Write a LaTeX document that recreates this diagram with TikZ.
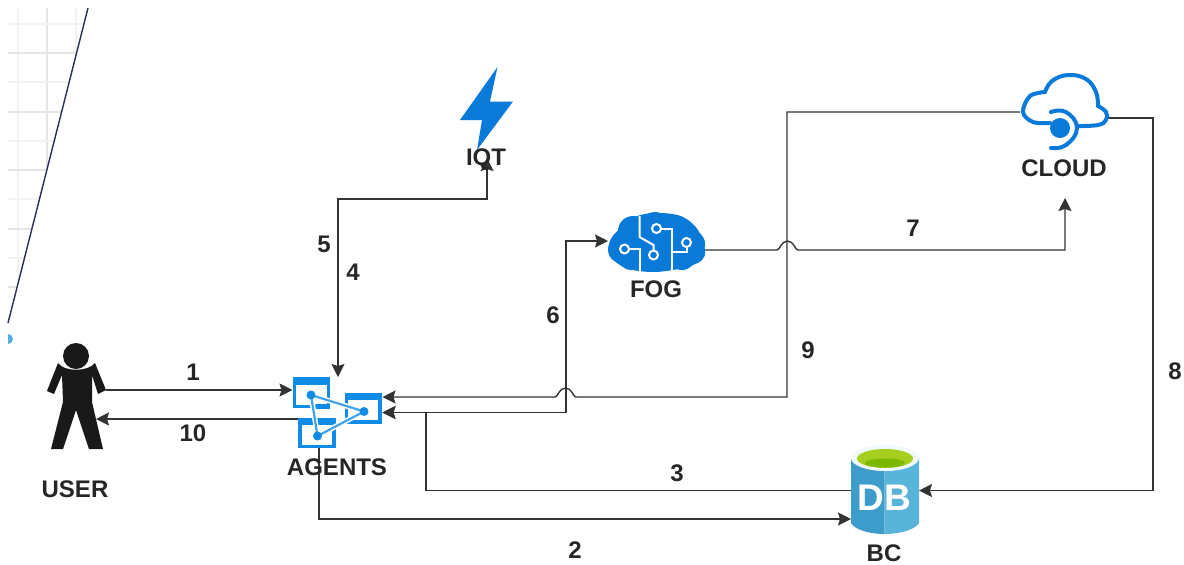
\documentclass[tikz,border=0pt]{standalone}
\usepackage{fontspec}
\setmainfont{Liberation Sans}
\usetikzlibrary{arrows.meta}
\definecolor{iconblue}{HTML}{0A7AD8}
\definecolor{agentblue}{HTML}{108CE6}
\definecolor{linegray}{HTML}{333333}
\definecolor{dbleft}{HTML}{3E9CCB}
\definecolor{dbright}{HTML}{59B4D9}
\definecolor{dbgreen}{HTML}{A5CE1E}
\definecolor{dbdark}{HTML}{7DB800}
\definecolor{slant}{HTML}{2A2E5A}
\tikzset{
  link/.style={draw=linegray,line width=0.7pt,>={Stealth[length=6.5pt,width=6.5pt,inset=1pt]}},
  lbl/.style={font=\bfseries\fontsize{12}{14}\selectfont,text=black!85,inner sep=0pt},
  icon/.style={inner sep=0pt,outer sep=0pt},
  agentbox/.style={draw=agentblue,line width=1.7pt,fill=white},
  cloudline/.style={iconblue,line width=2pt,line cap=round},
}
\begin{document}
\begin{tikzpicture}[x=0.5pt,y=-0.5pt]
  \useasboundingbox (0,0) rectangle (1184,564);
  % grid at the corner
  \begin{scope}
    \clip (8,8) -- (88,8) -- (8,323) -- cycle;
    \foreach \gx/\gc in {18/black!5,47/black!10,76/black!5}
      \draw[\gc,line width=0.6pt] (\gx,8) -- (\gx,330);
    \foreach \gy/\gc in {24/black!5,53/black!10,82/black!5,112/black!10,141/black!5,170/black!10,199/black!5,229/black!10,258/black!5,287/black!10}
      \draw[\gc,line width=0.6pt] (8,\gy) -- (90,\gy);
  \end{scope}
  \draw[slant,line width=0.7pt] (88,8) -- (8,323);
  \begin{scope}
    \clip (8,330) rectangle (14,348);
    \fill[agentblue!70] (8,339) circle (5);
  \end{scope}

  % icon nodes
  \node[icon,minimum width=30pt,minimum height=53pt] (user) at (76,396) {};
  \node[icon,minimum width=45pt,minimum height=35.5pt] (agents) at (337.5,412.5) {};
  \node[icon,minimum width=26.5pt,minimum height=45.5pt] (iot) at (487,112.5) {};
  \node[icon,minimum width=48.5pt,minimum height=30pt] (fog) at (656.5,241) {};
  \node[icon,minimum width=44pt,minimum height=37pt] (cloud) at (1064,112) {};
  \node[icon,minimum width=34pt,minimum height=43pt] (bc) at (885,490.5) {};
  \coordinate (cloudin) at (1065,198);

  % connectors
  \draw[link,->] (user.east |- 0,390) -- (agents.west |- 0,390);
  \draw[link,->] ([xshift=3pt]agents.west |- 0,419) -- ([xshift=-5pt]user.east |- 0,419);
  \draw[link,<->] (iot.south) -- (487,199) -- (338,199) -- (agents.north -| 338,0);
  \draw[link,<->] (fog.west) -- (566,241) -- (566,412.5) -- (agents.east);
  \draw[link,->] (fog.east |- 0,250) -- (777,250) .. controls (780,250) and (781,241) .. (787.5,241) .. controls (794,241) and (795,250) .. (798,250) -- (1065,250) -- (cloudin);
  \draw[link,->] (cloud.west) -- (787,112) -- (787,397) -- (576,397) .. controls (573,397) and (572,388) .. (565.5,388) .. controls (559,388) and (558,397) .. (555,397) -- (agents.east |- 0,397);
  \draw[link,->] (bc.west) -- (426,490.5) -- (426,412.5) -- (agents.east);
  \draw[link,->] (319,448) -- (319,519) -- (bc.west |- 0,519);
  \draw[link,->] (cloud.east |- 0,118) -- (1153,118) -- (1153,490.5) -- (bc.east);

  % user
  \fill[black!90] (58,363) .. controls (64,372) and (88,372) .. (95,363) -- (106,390) -- (98,394) -- (92,375) -- (92,402) -- (103,449) -- (89,449) -- (76,410) -- (63,449) -- (51,449) -- (63,402) -- (62,375) -- (54,394) -- (47,391) -- cycle;
  \fill[black!90] (76,356) circle (13);

  % agents
  \draw[agentbox] (294.5,379) rectangle (328.5,406.5);
  \fill[agentblue] (293,377.5) rectangle (330,385);
  \fill[agentblue] (313,404) rectangle (330,408.5);
  \draw[agentbox] (346.5,395) rectangle (380,422);
  \fill[agentblue] (345,393.5) rectangle (381.5,400);
  \draw[agentbox] (300,420) rectangle (334,446.5);
  \fill[agentblue] (298,418) rectangle (336,424.5);
  \draw[white,line width=2.6pt] (311,395) -- (364,411.5) -- (317.5,436) -- cycle;
  \draw[agentblue!80!white,line width=1.1pt] (311,395) -- (364,411.5) -- (317.5,436) -- cycle;
  \foreach \ax/\ay in {311/395,364/411.5,317.5/436}
    \fill[agentblue] (\ax,\ay) circle (4.5);

  % iot
  \fill[iconblue] (497.5,67) -- (460,120) -- (482,120) -- (477,150) -- (513,101.5) -- (490,101.5) -- cycle;

  % fog
  \fill[iconblue] plot[smooth cycle,tension=0.6] coordinates {(608,250) (612,237) (622,227) (633,218) (645,214) (657,213) (672,214) (685,218) (698,230) (705,250) (702,260) (690,266) (673,270) (653,272) (633,270) (620,265) (612,258)};
  \foreach \bx/\by/\br in {621/250/13,633/231/15,655/227/15,678/230/13,691/244/14,682/256/14,655/256/16,631/257/13}
    \fill[iconblue] (\bx,\by) circle (\br);
  \draw[white,line width=1pt] (639.5,216) -- (639.5,237) -- (653.5,245) -- (653.5,251);
  \draw[white,line width=1pt] (660.5,228.5) -- (671.5,228.5) -- (671.5,272);
  \draw[white,line width=1pt] (628,249) -- (639.5,249) -- (639.5,272);
  \draw[white,line width=1pt] (686.5,246) -- (686.5,251.5) -- (671.5,251.5);
  \foreach \fx/\fy in {653.5/255,656.5/228.5,624.5/249,686.5/242.5}
    \draw[white,fill=iconblue,line width=1pt] (\fx,\fy) circle (4.5);

  % cloud
  \draw[cloudline] plot[smooth,tension=0.6] coordinates {(1050,123) (1033,122) (1023,112) (1030,96) (1045,92)};
  \draw[cloudline] plot[smooth,tension=0.7] coordinates {(1045,92) (1052,81) (1068,75) (1086,79) (1096,92) (1098,106)};
  \draw[cloudline] plot[smooth,tension=0.7] coordinates {(1098,106) (1106,112) (1106,120) (1098,125) (1078,126)};
  \draw[cloudline] plot[smooth,tension=0.8] coordinates {(1051,112) (1066,112) (1077,128) (1066,145) (1051,148)};
  \fill[iconblue] (1060,128) circle (10);

  % bc
  \fill[dbleft] (851,458) -- (851,523) .. controls (855,530) and (870,534) .. (884.5,534) -- (884.5,458) -- cycle;
  \fill[dbright] (884.5,458) -- (884.5,534) .. controls (899,534) and (915,530) .. (919,523) -- (919,458) -- cycle;
  \fill[white!92!dbright] (885,458) ellipse (34 and 13);
  \fill[dbgreen] (885,458.5) ellipse (28 and 9.5);
  \fill[dbdark] (885,463) ellipse (20 and 4.5);
  \node[font=\bfseries\fontsize{18.5}{20}\selectfont,text=white,inner sep=0pt] (dbtext) at (884,498) {DB};

  % labels
  \node[lbl] (userlabel) at (75,489) {USER};
  \node[lbl] (agentslabel) at (337,467) {AGENTS};
  \node[lbl] (iotlabel) at (486,159) {IQT};
  \node[lbl] (foglabel) at (656,289) {FOG};
  \node[lbl] (cloudlabel) at (1064,168) {CLOUD};
  \node[lbl] (bclabel) at (884,553) {BC};
  \node[lbl] (one) at (193,372) {1};
  \node[lbl] (ten) at (193,433) {10};
  \node[lbl] (five) at (324,244) {5};
  \node[lbl] (four) at (353,272) {4};
  \node[lbl] (six) at (553,315) {6};
  \node[lbl] (seven) at (913,228) {7};
  \node[lbl] (eight) at (1175,371) {8};
  \node[lbl] (nine) at (808,350) {9};
  \node[lbl] (three) at (677,473) {3};
  \node[lbl] (two) at (575,550) {2};
\end{tikzpicture}
\end{document}
